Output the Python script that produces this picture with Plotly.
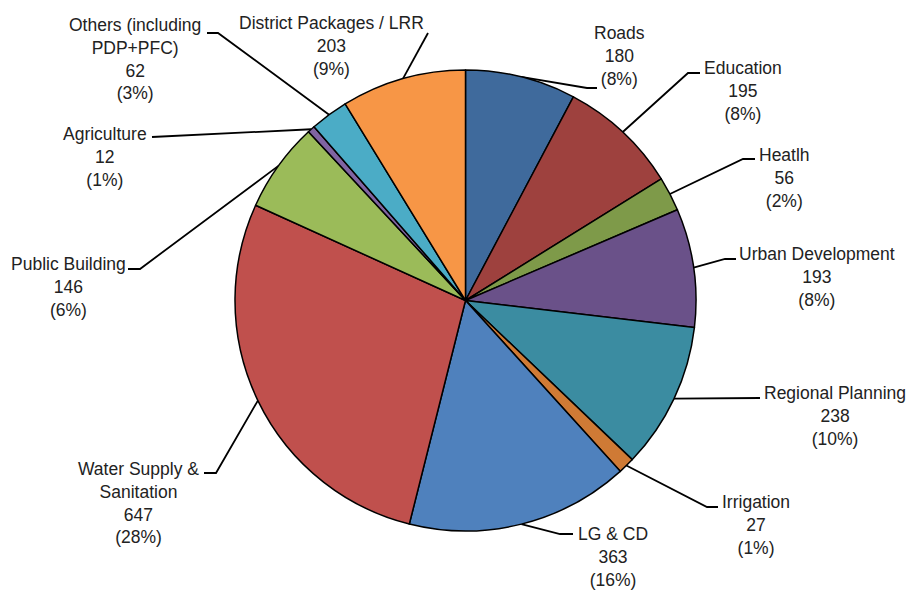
import math
import plotly.graph_objects as go

# ---- data ----
categories = ["Roads", "Education", "Heatlh", "Urban Development", "Regional Planning",
              "Irrigation", "LG & CD", "Water Supply & Sanitation", "Public Building",
              "Agriculture", "Others (including PDP+PFC)", "District Packages / LRR"]
label_lines = ["Roads", "Education", "Heatlh", "Urban Development", "Regional Planning",
               "Irrigation", "LG & CD", "Water Supply &<br>Sanitation", "Public Building",
               "Agriculture", "Others (including<br>PDP+PFC)", "District Packages / LRR"]
values = [180, 195, 56, 193, 238, 27, 363, 647, 146, 12, 62, 203]
pct_labels = ["8%", "8%", "2%", "8%", "10%", "1%", "16%", "28%", "6%", "1%", "3%", "9%"]

colors = ["#3F6A9C", "#9E413E", "#7E9A49", "#6A5189", "#3B8CA1", "#CF7A35",
          "#4F81BD", "#C0504D", "#9BBB59", "#8064A2", "#4BACC6", "#F79646"]

# ---- layout (pixel geometry) ----
W, H = 907, 592
CX, CY, R = 465.5, 300.5, 230.5
# label block centre (x, y), leader elbow, leader end (pixels)
label_pos = [(619, 56), (743, 91), (784, 178), (817, 277), (835, 416), (756, 525),
             (613, 557), (138, 503), (68, 287), (105, 157), (135, 59), (331, 46)]
elbows = [(587, 88), (688, 73), (743, 159), (725, 259), (760, 398), (707, 507),
          (560, 534), (216, 473), (140, 269), (155, 137), (218, 33), (428, 33)]
ends = [(597, 88), (700, 73), (755, 159), (736, 259), (760, 398), (718, 507),
        (573, 534), (204, 473), (128, 269), (152, 137), (207, 33), (428, 33)]

FONT = "Liberation Sans, Arial, sans-serif"

fig = go.Figure()
fig.add_trace(go.Pie(
    labels=categories, values=values, sort=False, direction="clockwise", rotation=0,
    marker=dict(colors=colors, line=dict(color="black", width=1.5)),
    textinfo="none", hoverinfo="label+value+percent", showlegend=False,
    domain=dict(x=[(CX - R) / W, (CX + R) / W], y=[1 - (CY + R) / H, 1 - (CY - R) / H]),
))

total = sum(values)
cum = 0
lx, ly = [], []
for i, v in enumerate(values):
    mid = (cum + v / 2) / total * 2 * math.pi
    cum += v
    ax = CX + R * math.sin(mid)
    ay = CY - R * math.cos(mid)
    lx += [ax, elbows[i][0], ends[i][0], None]
    ly += [ay, elbows[i][1], ends[i][1], None]

fig.add_trace(go.Scatter(x=lx, y=ly, mode="lines", line=dict(color="black", width=1.8),
                         hoverinfo="skip", showlegend=False))

annotations = []
for i in range(len(values)):
    annotations.append(dict(
        x=label_pos[i][0], y=label_pos[i][1], xref="x", yref="y",
        text=f"{label_lines[i]}<br>{values[i]}<br>({pct_labels[i]})",
        showarrow=False, xanchor="center", yanchor="middle", align="center",
        font=dict(family=FONT, size=17.5, color="#222222"),
    ))

fig.update_layout(
    width=W, height=H, margin=dict(l=0, r=0, t=0, b=0),
    paper_bgcolor="white", plot_bgcolor="rgba(0,0,0,0)",
    xaxis=dict(range=[0, W], visible=False, fixedrange=True),
    yaxis=dict(range=[H, 0], visible=False, fixedrange=True),
    annotations=annotations,
)
fig.write_html("out.html", config={"displayModeBar": False},
               post_script="document.body.style.margin='0';")
